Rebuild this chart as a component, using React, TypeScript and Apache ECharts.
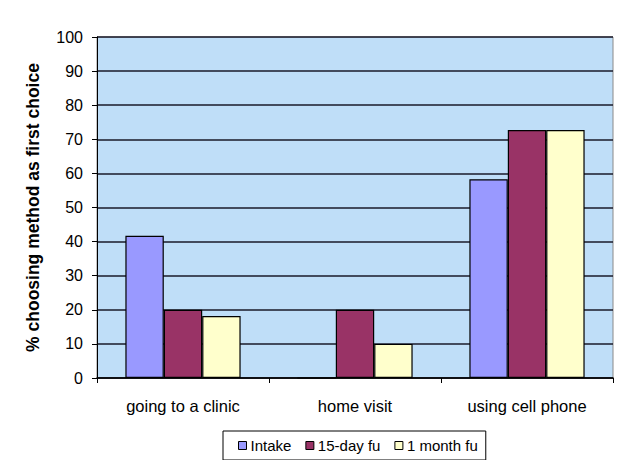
import React, { useEffect, useRef } from "react";
import * as echarts from "echarts";

const categories = ["going to a clinic", "home visit", "using cell phone"];
const intake = [41.7, 0, 58.3];
const fu15 = [20, 20, 72.7];
const fu1m = [18.2, 10, 72.7];
const seriesNames = ["Intake", "15-day fu", "1 month fu"];
const seriesColors = ["#9999FF", "#993366", "#FFFFCC"];
const yTicks = [0, 10, 20, 30, 40, 50, 60, 70, 80, 90, 100];

export default function App() {
  const ref = useRef<HTMLDivElement>(null);
  useEffect(() => {
    if (!ref.current) return;
    const chart = echarts.init(ref.current, undefined, { renderer: "svg" });
    const font = "Liberation Sans, Arial, sans-serif";
    const values = [intake, fu15, fu1m];
    chart.setOption({
      animation: false,
      textStyle: { fontFamily: font },
      graphic: [
        {
          type: "rect",
          z: -1,
          shape: { x: 97, y: 37, width: 516, height: 341 },
          style: { fill: "#BFDEF8", stroke: "#8a8a8a", lineWidth: 1 },
          silent: true,
        },
        {
          type: "rect",
          z: 10,
          shape: { x: 4.5, y: 4.5, width: 618, height: 460 },
          style: { fill: "rgba(0,0,0,0)", stroke: "#333", lineWidth: 1 },
          silent: true,
        },
      ],
      grid: { left: 97, right: 14, top: 37, bottom: 90, containLabel: false },
      legend: {
        data: seriesNames,
        left: 223,
        top: 431,
        orient: "horizontal",
        icon: "rect",
        itemWidth: 8,
        itemHeight: 8,
        itemGap: 14,
        padding: [7, 8, 7, 15],
        borderColor: "#000",
        borderWidth: 1,
        textStyle: { fontFamily: font, fontSize: 15, color: "#000", padding: [0, 0, 0, -1] },
        itemStyle: { borderColor: "#000", borderWidth: 1 },
      },
      xAxis: {
        type: "category",
        data: categories,
        axisLine: { show: true, lineStyle: { color: "#000", width: 1.5 } },
        axisTick: { show: true, length: 5, lineStyle: { color: "#000" } },
        axisLabel: { color: "#000", fontSize: 16.5, fontFamily: font, margin: 19 },
      },
      yAxis: {
        type: "value",
        min: 0,
        max: 100,
        interval: 10,
        name: "% choosing method as first choice",
        nameLocation: "middle",
        nameGap: 55,
        nameRotate: 90,
        nameTextStyle: { fontSize: 17.5, fontWeight: "bold", color: "#000", fontFamily: font },
        axisLine: { show: true, lineStyle: { color: "#000", width: 1 } },
        axisTick: { show: true, length: 5, inside: false, lineStyle: { color: "#000" } },
        axisLabel: {
          color: "#000",
          fontSize: 16,
          fontFamily: font,
          margin: 14,
          formatter: (v: number) => (yTicks.includes(v) ? String(v) : ""),
        },
        splitLine: { show: true, lineStyle: { color: "#1a1a2a", width: 1.5 } },
      },
      series: seriesNames.map((name, i) => ({
        name,
        type: "bar",
        data: values[i],
        barGap: "0%",
        barCategoryGap: "33%",
        itemStyle: { color: seriesColors[i], borderColor: "#000", borderWidth: 1.2 },
      })),
    });
    return () => chart.dispose();
  }, []);
  return (
    <div style={{ position: "relative", width: 627, height: 468, margin: -8 }}>
      <div ref={ref} style={{ position: "absolute", left: 0, top: 0, width: 627, height: 468 }} />
    </div>
  );
}
